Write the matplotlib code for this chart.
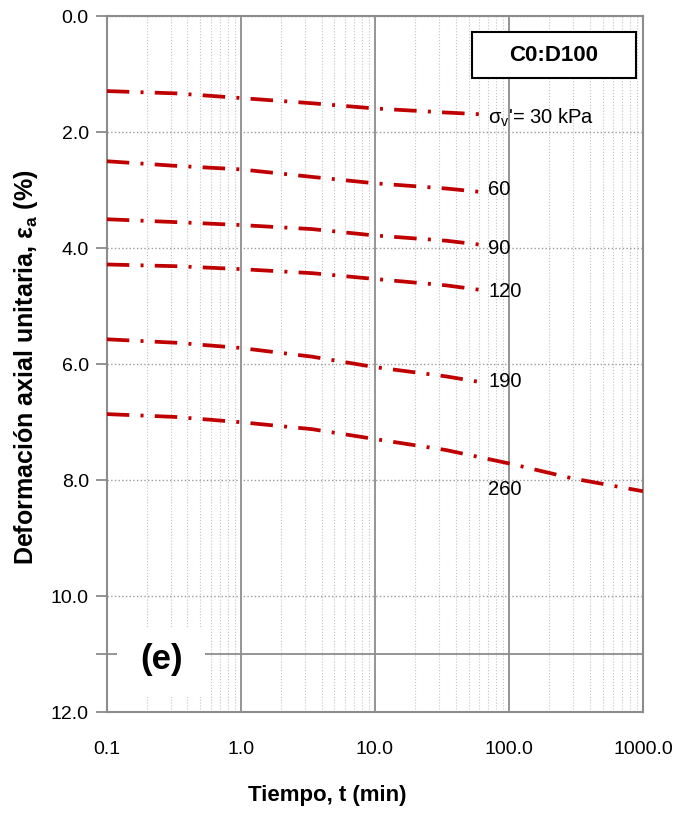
import matplotlib
matplotlib.use('Agg')
import matplotlib.pyplot as plt
from matplotlib.ticker import LogLocator, NullFormatter
from matplotlib.patches import Rectangle

plt.rcParams['font.family'] = ['Liberation Sans', 'DejaVu Sans']
plt.rcParams['mathtext.fontset'] = 'custom'
plt.rcParams['mathtext.rm'] = 'Liberation Sans'
plt.rcParams['mathtext.bf'] = 'Liberation Sans:bold'

# Datos (tiempo en min, deformacion en %)
t_main = [0.1, 0.33, 1, 3.4, 10, 34, 62]
e30 = [1.29, 1.33, 1.41, 1.50, 1.59, 1.66, 1.69]
e60 = [2.50, 2.58, 2.64, 2.77, 2.88, 2.97, 3.03]
e90 = [3.50, 3.55, 3.60, 3.67, 3.78, 3.87, 3.94]
e120 = [4.28, 4.31, 4.36, 4.43, 4.53, 4.64, 4.72]
e190 = [5.57, 5.63, 5.72, 5.87, 6.05, 6.21, 6.31]
t260 = [0.1, 0.33, 1, 3.4, 10, 34, 100, 300, 1000]
e260 = [6.86, 6.91, 7.00, 7.12, 7.29, 7.48, 7.71, 7.97, 8.19]

curve_labels = [r"σ$_\mathregular{v}$'= 30 kPa", '60', '90', '120', '190', '260']
label_y = [1.76, 2.98, 4.0, 4.74, 6.29, 8.16]
label_t = 70

xticks = [0.1, 1, 10, 100, 1000]
xticklabels = ['0.1', '1.0', '10.0', '100.0', '1000.0']
yticks = [0, 2, 4, 6, 8, 10, 12]
yticklabels = ['0.0', '2.0', '4.0', '6.0', '8.0', '10.0', '12.0']

fig = plt.figure(figsize=(6.76, 8.13), dpi=100)
ax = fig.add_axes([0.158, 0.124, 0.793, 0.856])

red = '#C00000'
dash = (0, (6, 3, 0.8, 3))
for t, e in [(t_main, e30), (t_main, e60), (t_main, e90), (t_main, e120),
             (t_main, e190), (t260, e260)]:
    ax.plot(t, e, color=red, lw=2.7, linestyle=dash, zorder=4)

for lab, y in zip(curve_labels, label_y):
    ax.text(label_t, y, lab, fontsize=14.5, va='center', ha='left', zorder=5)

ax.set_xscale('log')
ax.set_xlim(0.1, 1000)
ax.set_ylim(12, 0)

ax.set_xticks(xticks)
ax.set_xticklabels(xticklabels, fontsize=14)
ax.xaxis.set_minor_locator(LogLocator(base=10, subs=range(2, 10)))
ax.xaxis.set_minor_formatter(NullFormatter())
ax.tick_params(axis='x', which='both', length=0, pad=21)

ax.set_yticks(yticks)
ax.set_yticklabels(yticklabels, fontsize=14)
ax.set_yticks([11], minor=True)
ax.tick_params(axis='y', which='both', length=8, width=1.2, color='#808080',
               direction='out', pad=5)

ax.grid(which='major', axis='x', color='#8c8c8c', lw=1.3, ls='-')
ax.grid(which='minor', axis='x', color='#c4c4c4', lw=0.8, ls=':')
ax.grid(which='major', axis='y', color='#9a9a9a', lw=1.0, ls=':')
ax.axhline(11, color='#8c8c8c', lw=1.3, zorder=1)
ax.set_axisbelow(True)

for s in ax.spines.values():
    s.set_color('#8c8c8c')
    s.set_linewidth(1.5)

# recuadro (e)
ax.add_patch(Rectangle((0.0187, 0.0216), 0.164, 0.099, transform=ax.transAxes,
                       facecolor='white', edgecolor='none', zorder=2))
ax.text(0.103, 0.075, '(e)', transform=ax.transAxes, fontsize=25,
        fontweight='bold', ha='center', va='center', zorder=3)

# recuadro C0:D100
ax.add_patch(Rectangle((0.681, 0.911), 0.306, 0.066, transform=ax.transAxes,
                       facecolor='white', edgecolor='black', lw=1.5, zorder=6))
ax.text(0.834, 0.944, 'C0:D100', transform=ax.transAxes, fontsize=16,
        fontweight='bold', ha='center', va='center', zorder=7)

fig.text(0.038, 0.548, r'Deformación axial unitaria, ε$_\mathbf{a}$ (%)',
         rotation=90, fontsize=18, fontweight='bold', ha='center', va='center')
fig.text(0.484, 0.022, 'Tiempo, t (min)', fontsize=16, fontweight='bold',
         ha='center', va='center')

fig.savefig('out.png', dpi=100)
